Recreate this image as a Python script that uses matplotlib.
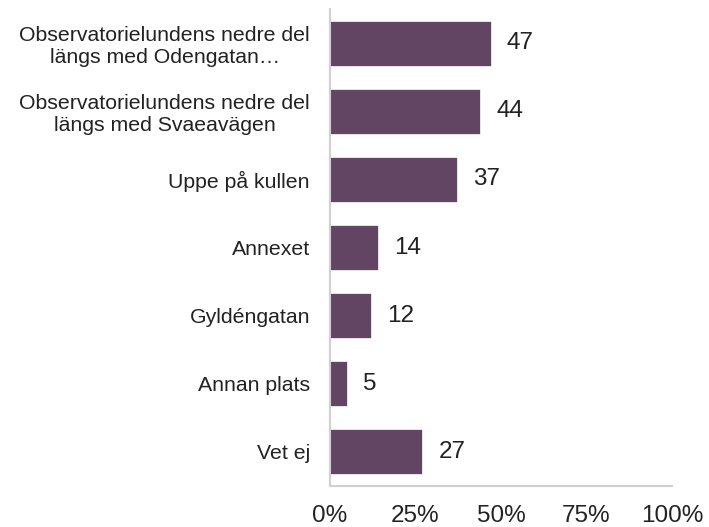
import matplotlib
matplotlib.use("Agg")
import matplotlib.pyplot as plt
from matplotlib.ticker import FuncFormatter

plt.rcParams['font.family'] = ['Liberation Sans', 'DejaVu Sans']

categories = [
    "Observatorielundens nedre del\nlängs med Odengatan…",
    "Observatorielundens nedre del\nlängs med Svaeavägen",
    "Uppe på kullen",
    "Annexet",
    "Gyldéngatan",
    "Annan plats",
    "Vet ej",
]
values = [47, 44, 37, 14, 12, 5, 27]
xticks = [0, 25, 50, 75, 100]

bar_color = "#624563"
spine_color = "#d0d0d0"
text_color = "#222222"

fig = plt.figure(figsize=(7.09, 5.27), dpi=100)
ax = fig.add_axes([330/709, (527-486)/527, (672-330)/709, (486-9)/527])

y = list(range(len(categories)))
ax.barh(y, values, height=0.66, color=bar_color, edgecolor="white", linewidth=0.5)
for yi, v in zip(y, values):
    ax.text(v + 4.7, yi, f"{v}", va="center", ha="left", fontsize=17.5, color=text_color)

ax.set_xlim(0, 100)
ax.set_ylim(len(categories) - 0.5, -0.5)
ax.set_yticks(y)
ax.set_yticklabels(categories, fontsize=15.3, color=text_color, multialignment="center", linespacing=1.2)
ax.set_xticks(xticks)
ax.xaxis.set_major_formatter(FuncFormatter(lambda v, p: f"{int(v)}%"))
ax.tick_params(axis="x", length=0, pad=14, labelsize=17.5, labelcolor=text_color)
ax.tick_params(axis="y", length=0, pad=14.4)

for s in ["top", "right"]:
    ax.spines[s].set_visible(False)
for s in ["left", "bottom"]:
    ax.spines[s].set_color(spine_color)
    ax.spines[s].set_linewidth(1.5)

fig.savefig("out.png", dpi=100)
